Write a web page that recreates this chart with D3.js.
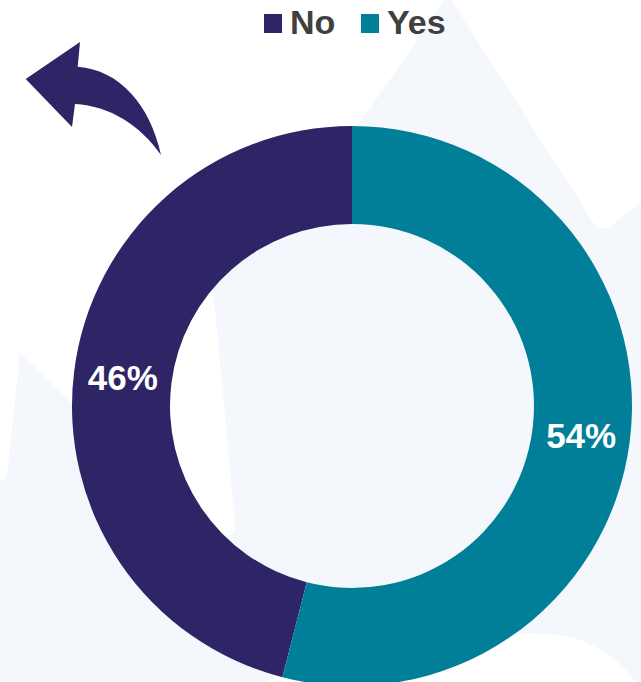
<!DOCTYPE html>
<html>
<head>
<meta charset="utf-8">
<script src="https://cdn.jsdelivr.net/npm/d3@7/dist/d3.min.js"></script>
<style>
  html, body { margin: 0; padding: 0; background: #ffffff; }
  svg { display: block; }
</style>
</head>
<body>
<svg id="chart" width="641" height="682"></svg>
<script>
// Survey answers
const categories = ["No", "Yes"];
const values = [46, 54];
const colors = ["#2E2566", "#017F98"];
const labels = ["46%", "54%"];

const width = 641, height = 682;
const cx = 352, cy = 406;
const outerR = 280, innerR = 182;

const svg = d3.select("#chart");

// Soft backdrop shapes
const bg = svg.append("g");
bg.append("path")
  .attr("fill", "#F4F7FB")
  .attr("d", "M448,-5 L593,222 Q601,234 613,224 L641,203 L641,682 L0,682 L0,482 Q7,480 8,466 L20,353 L150,480 L226,536 Q237,535 235,522 L213,288 L307,200 Z");
bg.append("path")
  .attr("fill", "#ffffff")
  .attr("d", "M265,682 C320,640 480,632 543,634 C590,636 615,655 636,682 Z");

// Curved arrow
svg.append("path")
  .attr("fill", "#2E2566")
  .attr("d", "M25.7,79 L80,42 L77.7,66.7 C120,70 150,105 161,155 C140,125 110,106 75,104 L72,127 Z");

// Donut: "No" ends at 12 o'clock, "Yes" runs clockwise from it
const total = d3.sum(values);
const pie = d3.pie()
  .sort(null)
  .value(d => d.value)
  .startAngle(-2 * Math.PI * values[0] / total)
  .endAngle(2 * Math.PI - 2 * Math.PI * values[0] / total);

const data = categories.map((c, i) => ({ category: c, value: values[i], color: colors[i], label: labels[i] }));
const arcs = pie(data);
const arc = d3.arc().innerRadius(innerR).outerRadius(outerR);

const g = svg.append("g").attr("transform", `translate(${cx},${cy})`);
g.selectAll("path.slice")
  .data(arcs)
  .join("path")
  .attr("class", "slice")
  .attr("d", arc)
  .attr("fill", d => d.data.color);

g.selectAll("text.val")
  .data(arcs)
  .join("text")
  .attr("class", "val")
  .attr("transform", d => `translate(${arc.centroid(d)})`)
  .attr("text-anchor", "middle")
  .attr("dy", "0.36em")
  .attr("fill", "#ffffff")
  .attr("font-family", "'Liberation Sans', Arial, sans-serif")
  .attr("font-weight", "bold")
  .attr("font-size", 35)
  .text(d => d.data.label);

// Legend
const legendX = [264, 361];
const legend = svg.append("g");
const items = legend.selectAll("g.item")
  .data(data)
  .join("g")
  .attr("class", "item")
  .attr("transform", (d, i) => `translate(${legendX[i]},0)`);
items.append("rect")
  .attr("x", 0).attr("y", 14)
  .attr("width", 18).attr("height", 19)
  .attr("fill", d => d.color);
items.append("text")
  .attr("x", 26).attr("y", 34)
  .attr("fill", "#404040")
  .attr("font-family", "'Liberation Sans', Arial, sans-serif")
  .attr("font-weight", "bold")
  .attr("font-size", 34)
  .text(d => d.category);
</script>
</body>
</html>
